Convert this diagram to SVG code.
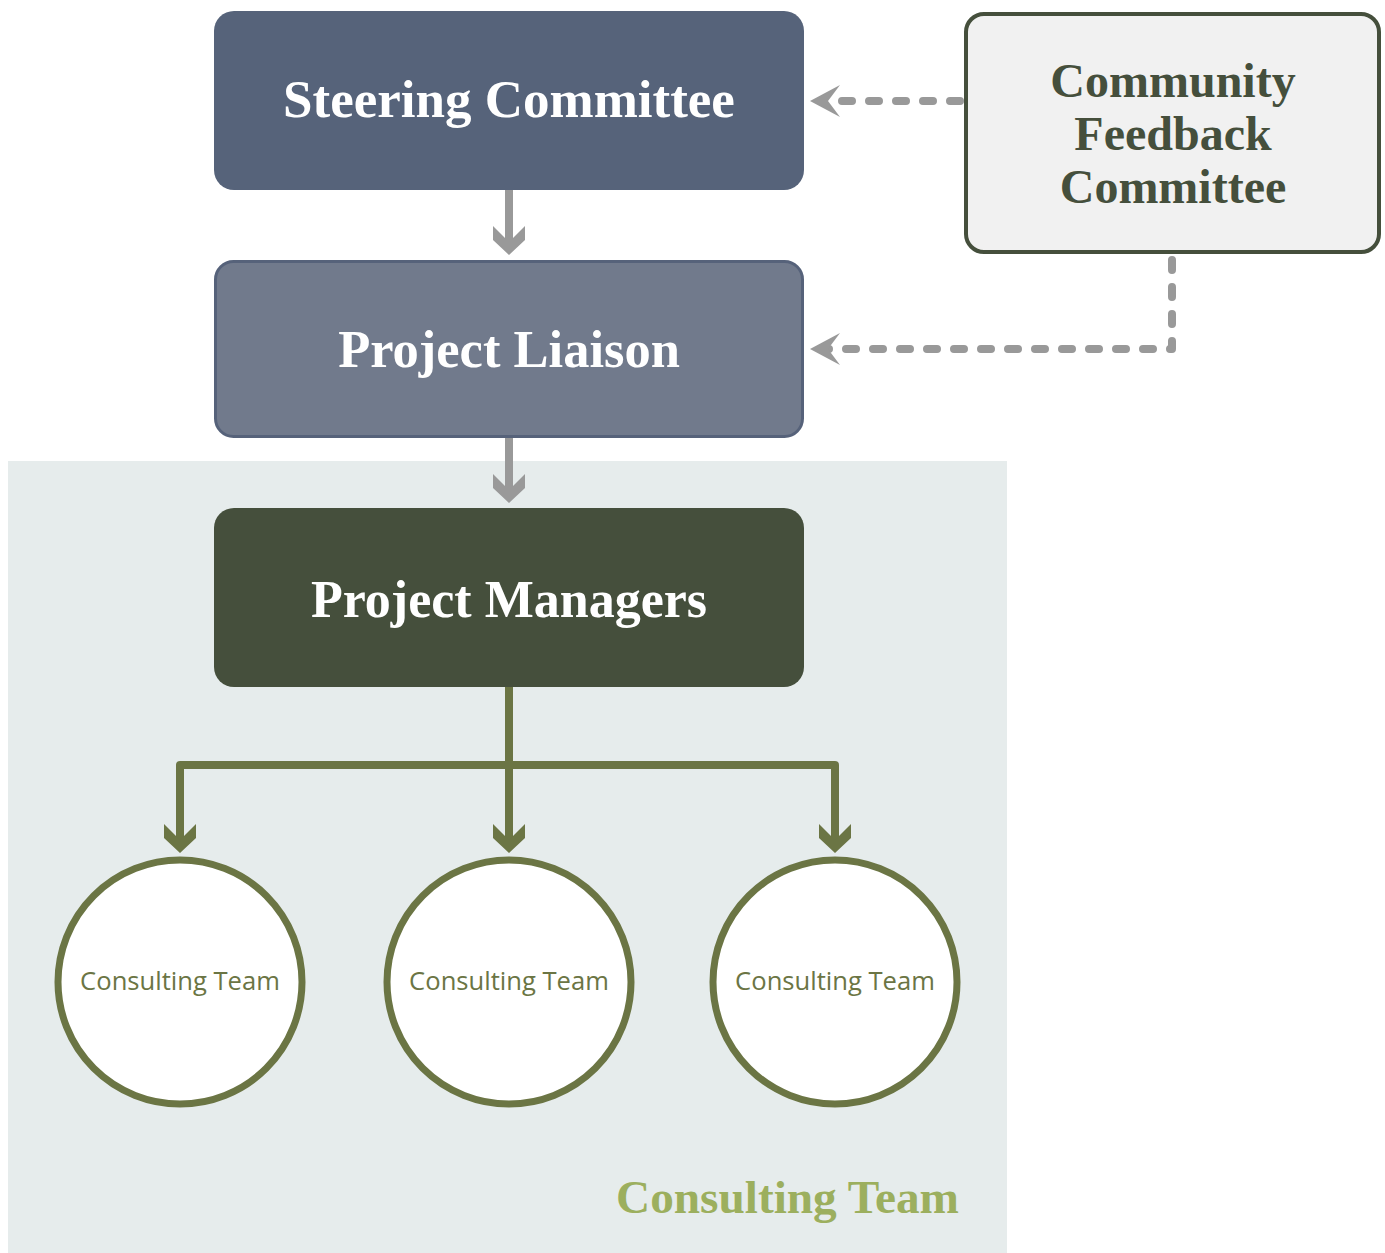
<svg xmlns="http://www.w3.org/2000/svg" width="1385" height="1253" viewBox="0 0 1385 1253">
<style>
.title{font-family:"Liberation Serif","Times New Roman",serif;font-weight:bold;text-anchor:middle}
.ct{font-family:"Open Sans","Noto Sans",sans-serif;font-size:25.6px;fill:#6b7544;text-anchor:middle}
.circle{fill:#ffffff;stroke:#6b7544;stroke-width:7}
.solid{fill:none;stroke:#999999;stroke-width:8}
.dash{fill:none;stroke:#999999;stroke-width:8;stroke-linecap:round;stroke-linejoin:round;stroke-dasharray:10 17}
.green{fill:none;stroke:#6b7544;stroke-width:8;stroke-linejoin:round}
</style>
<defs>
<marker id="grayHead" markerUnits="userSpaceOnUse" viewBox="-30 -17 31 34" refX="-13" refY="0" markerWidth="31" markerHeight="34" orient="auto">
<path d="M-29,-16 L-15,-16 L0,0 L-15,16 L-29,16 L-13,0 Z" fill="#999999"/>
</marker>
<marker id="dashHead" markerUnits="userSpaceOnUse" viewBox="-31 -17 32 34" refX="-18" refY="0" markerWidth="32" markerHeight="34" orient="auto">
<path d="M-30,-16 L0,0 L-30,16 L-18,0 Z" fill="#999999"/>
</marker>
<marker id="greenHead" markerUnits="userSpaceOnUse" viewBox="-30 -17 31 34" refX="-13" refY="0" markerWidth="31" markerHeight="34" orient="auto">
<path d="M-29,-16 L-15,-16 L0,0 L-15,16 L-29,16 L-13,0 Z" fill="#6b7544"/>
</marker>
</defs>
<rect width="1385" height="1253" fill="#ffffff"/>
<g id="consulting-team-group">
<rect x="8" y="461" width="999" height="792" fill="#e6ecec"/>
<text class="title" x="959" y="1213" font-size="47.3" fill="#9caf5e" style="text-anchor:end">Consulting Team</text>
</g>
<g id="connectors">
<path class="solid" d="M509,190 V242" marker-end="url(#grayHead)"/>
<path class="solid" d="M509,438 V490" marker-end="url(#grayHead)"/>
<path class="dash" d="M960,101 H828" marker-end="url(#dashHead)"/>
<path class="dash" d="M1172,260 V349 H828" marker-end="url(#dashHead)"/>
<path class="green" d="M509,687 V840" marker-end="url(#greenHead)"/>
<path class="green" d="M509,765 H180 V840" marker-end="url(#greenHead)"/>
<path class="green" d="M509,765 H835 V840" marker-end="url(#greenHead)"/>
</g>
<g id="steering-committee">
<rect x="214" y="11" width="590" height="179" rx="20" fill="#56637a"/>
<text class="title" x="509" y="117" font-size="53" fill="#ffffff">Steering Committee</text>
</g>
<g id="project-liaison">
<rect x="215.5" y="261.5" width="587" height="175" rx="18" fill="#717a8c" stroke="#56627a" stroke-width="3"/>
<text class="title" x="509" y="367" font-size="52.5" fill="#ffffff">Project Liaison</text>
</g>
<g id="project-managers">
<rect x="214" y="508" width="590" height="179" rx="20" fill="#454f3c"/>
<text class="title" x="509" y="617" font-size="52" fill="#ffffff">Project Managers</text>
</g>
<g id="community-feedback-committee">
<rect x="966" y="14" width="413" height="238" rx="18" fill="#f1f1f1" stroke="#454f3c" stroke-width="4"/>
<text class="title" font-size="48" fill="#454f3c"><tspan x="1173" y="97">Community</tspan><tspan x="1173" y="150">Feedback</tspan><tspan x="1173" y="203">Committee</tspan></text>
</g>
<g id="consulting-team-1">
<circle class="circle" cx="180" cy="982" r="122"/>
<text class="ct" x="180" y="990">Consulting Team</text>
</g>
<g id="consulting-team-2">
<circle class="circle" cx="509" cy="982" r="122"/>
<text class="ct" x="509" y="990">Consulting Team</text>
</g>
<g id="consulting-team-3">
<circle class="circle" cx="835" cy="982" r="122"/>
<text class="ct" x="835" y="990">Consulting Team</text>
</g>
</svg>
